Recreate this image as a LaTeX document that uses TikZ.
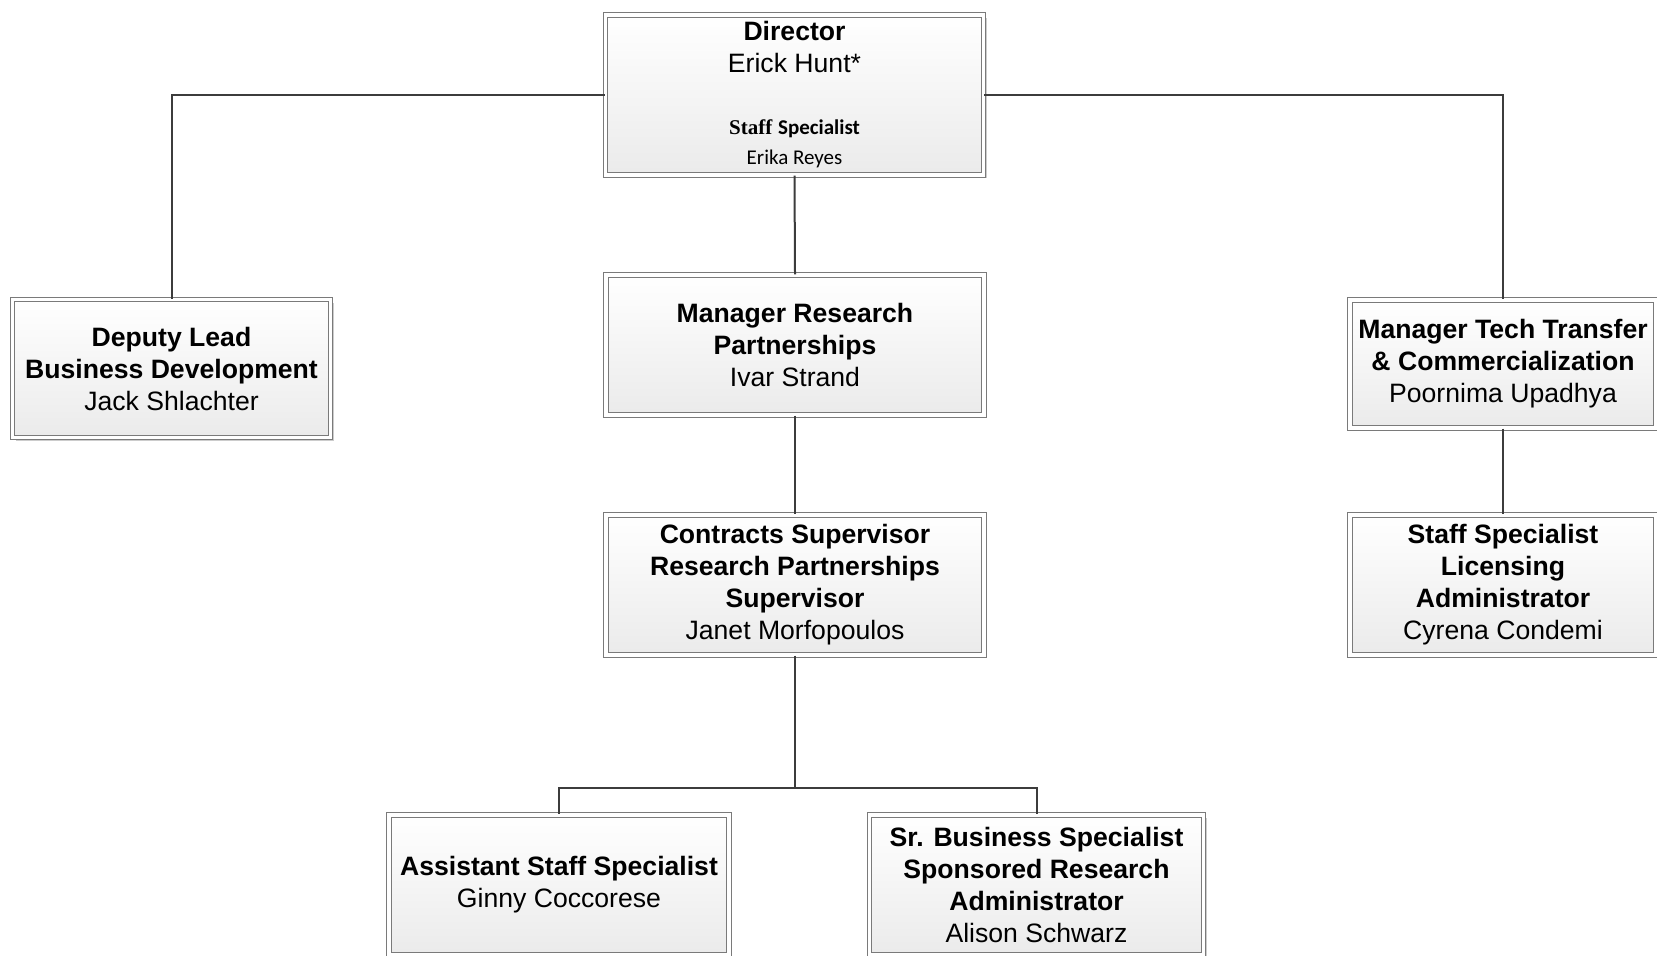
\documentclass[tikz,border=0pt]{standalone}
\usepackage{fontspec}
\setmainfont{Liberation Sans}
\newfontfamily\calibri{Carlito}
\newfontfamily\cambria{Liberation Serif}
\usetikzlibrary{shadows}
\definecolor{boxline}{HTML}{7A7A7A}
\definecolor{linkline}{HTML}{3C3C3C}
\tikzset{
  post/.style={rectangle, draw=boxline, line width=0.6pt, double=white, double distance=1.6pt,
    top color=white, bottom color=black!8, inner sep=2pt, align=center,
    font=\fontsize{13.3}{16}\selectfont,
    drop shadow={shadow xshift=1.6pt, shadow yshift=-1.6pt, fill=black!25, opacity=0.8}},
  link/.style={draw=linkline, line width=1pt}
}
\begin{document}
\begin{tikzpicture}[x=0.5pt, y=-0.5pt]
        \useasboundingbox (0,0) rectangle (1657,955);
        % Posts
        \node[post, minimum width=189pt, minimum height=80pt] (director) at (794.5,95)
          {\textbf{Director}\\ Erick Hunt*\\[15pt]
           {\fontsize{10.5}{15}\selectfont\bfseries{\cambria Staff} {\calibri Specialist}}\\[-1pt]
           {\fontsize{10.5}{15}\selectfont\calibri Erika Reyes}};
        \node[post, minimum width=159pt, minimum height=69pt] (deputy) at (171.5,368.5)
          {\textbf{Deputy Lead}\\ \textbf{Business Development}\\ Jack Shlachter};
        \node[post, minimum width=189pt, minimum height=70pt] (mgrres) at (795,345)
          {\textbf{Manager Research}\\ \textbf{Partnerships}\\ Ivar Strand};
        \node[post, minimum width=189pt, minimum height=70pt] (contracts) at (795,585)
          {\textbf{Contracts Supervisor}\\ \textbf{Research Partnerships}\\ \textbf{Supervisor}\\ Janet Morfopoulos};
        \node[post, minimum width=153pt, minimum height=64pt] (mgrtech) at (1503,364)
          {\textbf{Manager Tech Transfer}\\ \textbf{\& Commercialization}\\ Poornima Upadhya};
        \node[post, minimum width=153pt, minimum height=70pt] (licensing) at (1503,585)
          {\textbf{Staff Specialist}\\ \textbf{Licensing}\\ \textbf{Administrator}\\ Cyrena Condemi};
        \node[post, minimum width=170pt, minimum height=70pt] (assistant) at (559,885)
          {\textbf{Assistant Staff Specialist}\\ Ginny Coccorese};
        \node[post, minimum width=167pt, minimum height=70pt] (srbus) at (1036.5,885)
          {\textbf{Sr. Business Specialist}\\ \textbf{Sponsored Research}\\ \textbf{Administrator}\\ Alison Schwarz};
        % Links
        \coordinate (bus) at (795,788);
        \path[link] (director.west) -| (deputy.north);
        \path[link] (director.east) -| (mgrtech.north);
        \path[link] (director.south) -- (mgrres.north);
        \path[link] (mgrres.south) -- (contracts.north);
        \path[link] (mgrtech.south) -- (licensing.north);
        \path[link] (contracts.south) -- (bus);
        \path[link] (bus) -| (assistant.north);
        \path[link] (bus) -| (srbus.north);
\end{tikzpicture}
\end{document}
